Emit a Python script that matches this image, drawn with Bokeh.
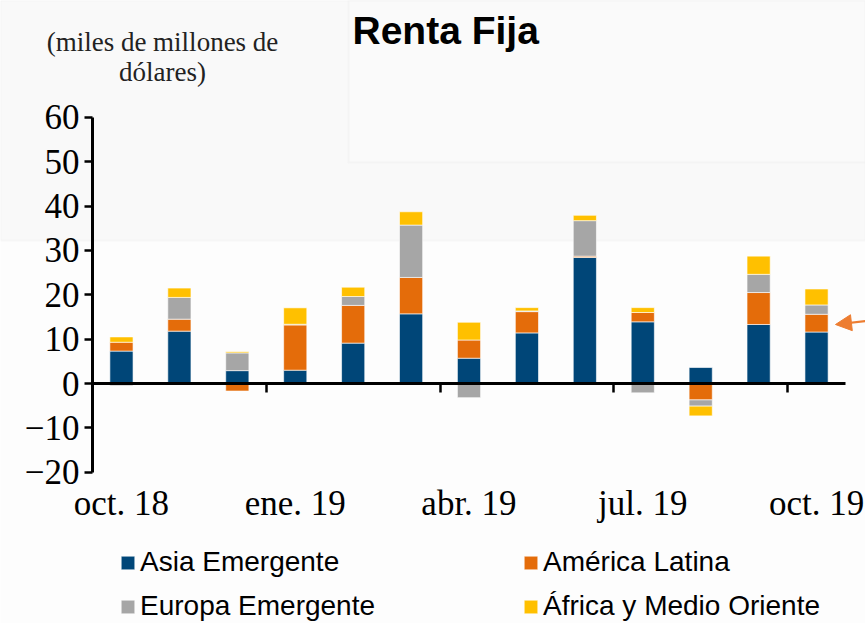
import numpy as np
from bokeh.plotting import figure
from bokeh.models import (Range1d, FixedTicker, Label, Legend, LegendItem, LinearAxis,
                          BoxAnnotation, Arrow, NormalHead, ColumnDataSource)
from bokeh.embed import file_html
from bokeh.resources import INLINE

# ---------------- data ----------------
months = ["oct. 18", "nov. 18", "dic. 18", "ene. 19", "feb. 19", "mar. 19", "abr. 19",
          "may. 19", "jun. 19", "jul. 19", "ago. 19", "sep. 19", "oct. 19"]
tick_label_idx = [0, 3, 6, 9, 12]
tick_labels = ["oct. 18", "ene. 19", "abr. 19", "jul. 19", "oct. 19"]
quarter_boundaries = [3, 6, 9, 12]
y_ticks = [-20, -10, 0, 10, 20, 30, 40, 50, 60]

series_names = ["Asia Emergente", "América Latina", "Europa Emergente", "África y Medio Oriente"]
asia    = [7.3, 11.8, 2.9, 3.0, 9.1, 15.7, 5.7, 11.4, 28.4, 13.9, 3.6, 13.3, 11.6]
america = [2.0, 2.7, -1.7, 10.2, 8.5, 8.2, 4.1, 4.8, 0.3, 2.1, -3.7, 7.2, 4.0]
europa  = [-0.5, 4.9, 4.0, 0.15, 2.0, 11.8, -3.2, 0.15, 8.0, -2.1, -1.4, 4.1, 2.1]
africa  = [1.2, 2.1, 0.25, 3.7, 2.1, 3.0, 4.0, 0.75, 1.2, 1.1, -2.2, 4.1, 3.6]
series_colors = ["#004678", "#E46C0A", "#A6A6A6", "#FFC000"]

# ---------------- figure ----------------
W, H = 865, 623
n = len(months)
# frame covers the whole canvas; axes are drawn at fixed data locations
px_per_cat = 753 / n
px_per_unit = 355 / 80
x0_px, y0_px = 92, 383
x_range = Range1d(-x0_px / px_per_cat, (W - x0_px) / px_per_cat)
y_range = Range1d(-(H - y0_px) / px_per_unit, y0_px / px_per_unit)

p = figure(width=W, height=H, output_backend="svg", toolbar_location=None,
           x_range=x_range, y_range=y_range, min_border=0,
           min_border_left=0, min_border_right=0, min_border_top=0, min_border_bottom=0)
p.background_fill_color = "#fdfdfd"
p.border_fill_color = "#fdfdfd"
p.outline_line_color = None
p.xgrid.visible = False
p.ygrid.visible = False

# decorative background panels (screenshot look)
band = BoxAnnotation(bottom=(y0_px - 240) / px_per_unit, fill_color="#f9f9f9",
                     fill_alpha=1, line_color="#ebebeb", line_width=2, level="underlay")
box = BoxAnnotation(left=(348 - x0_px) / px_per_cat, bottom=(y0_px - 162) / px_per_unit,
                    fill_color="#fafafa", fill_alpha=1, line_color="#e8e8e8",
                    line_width=2, level="underlay")
p.add_layout(band)
p.add_layout(box)

# stacked bars (positives stack up, negatives stack down)
x = np.arange(n) + 0.5
pos_base = np.zeros(n)
neg_base = np.zeros(n)
renderers = []
for name, vals, col in zip(series_names, [asia, america, europa, africa], series_colors):
    v = np.array(vals, dtype=float)
    bottom = np.where(v >= 0, pos_base, neg_base)
    top = bottom + v
    pos_base = np.where(v >= 0, top, pos_base)
    neg_base = np.where(v < 0, top, neg_base)
    src = ColumnDataSource(dict(x=x, top=top, bottom=bottom))
    r = p.vbar(x="x", top="top", bottom="bottom", width=0.4, source=src,
               fill_color=col, line_color="white", line_alpha=0.6, line_width=1)
    renderers.append(r)

# y axis at x = 0
yax = p.yaxis[0]
yax.fixed_location = 0
yax.bounds = (y_ticks[0], y_ticks[-1])
yax.ticker = FixedTicker(ticks=y_ticks)
yax.axis_line_color = "black"
yax.axis_line_width = 3
yax.major_tick_line_color = "black"
yax.major_tick_line_width = 2.5
yax.major_tick_out = 8
yax.major_tick_in = 0
yax.minor_tick_line_color = None
yax.major_label_standoff = 5
yax.major_label_text_font = "Liberation Serif"
yax.major_label_text_font_size = "35px"
yax.major_label_text_color = "black"

# x axis at y = 0: line + quarter ticks
xax = p.xaxis[0]
xax.fixed_location = 0
xax.bounds = (0, n)
xax.ticker = FixedTicker(ticks=quarter_boundaries)
xax.axis_line_color = "black"
xax.axis_line_width = 3
xax.major_tick_line_color = "black"
xax.major_tick_line_width = 2.5
xax.major_tick_out = 9
xax.major_tick_in = 0
xax.minor_tick_line_color = None
xax.major_label_text_font_size = "0px"
xax.major_label_text_alpha = 0

# x axis with month labels at the bottom of the value range
lab_ax = LinearAxis(fixed_location=y_ticks[0],
                    ticker=FixedTicker(ticks=[i + 0.5 for i in tick_label_idx]),
                    major_label_overrides={i + 0.5: lab for i, lab in zip(tick_label_idx, tick_labels)},
                    axis_line_color=None, major_tick_line_color=None, minor_tick_line_color=None,
                    major_tick_out=0, major_tick_in=0, major_label_standoff=12,
                    major_label_text_font="Liberation Serif", major_label_text_font_size="35px",
                    major_label_text_color="black")
p.add_layout(lab_ax, "below")

# titles
p.add_layout(Label(x=352, y=H - 30, x_units="screen", y_units="screen", text="Renta Fija",
                   text_baseline="alphabetic",
                   text_font="Liberation Sans", text_font_style="bold",
                   text_font_size="39px", text_color="black"))
p.add_layout(Label(x=162, y=H - 41, x_units="screen", y_units="screen",
                   text="(miles de millones de", text_align="center", text_baseline="alphabetic",
                   text_font="Liberation Serif", text_font_size="27px", text_color="#222222"))
p.add_layout(Label(x=162, y=H - 71, x_units="screen", y_units="screen",
                   text="dólares)", text_align="center", text_baseline="alphabetic",
                   text_font="Liberation Serif", text_font_size="27px", text_color="#222222"))

# arrow on the right
p.add_layout(Arrow(end=NormalHead(size=16, fill_color="#ED7D31", line_color="#ED7D31"),
                   x_start=(870 - x0_px) / px_per_cat, y_start=(y0_px - 320) / px_per_unit,
                   x_end=(835 - x0_px) / px_per_cat, y_end=(y0_px - 324) / px_per_unit,
                   line_color="#ED7D31", line_width=2))

# legends (two columns)
items = [LegendItem(label=nm, renderers=[r]) for nm, r in zip(series_names, renderers)]
for idx, xloc in [([0, 2], 119), ([1, 3], 522)]:
    leg = Legend(items=[items[i] for i in idx], location=(xloc, 1),
                 glyph_width=17, glyph_height=17, label_standoff=4, spacing=12,
                 padding=0, margin=0, border_line_color=None, background_fill_alpha=0,
                 label_text_font="Liberation Sans", label_text_font_size="28px",
                 label_text_color="black")
    p.add_layout(leg)

open("out.html", "w").write(file_html(p, INLINE))
